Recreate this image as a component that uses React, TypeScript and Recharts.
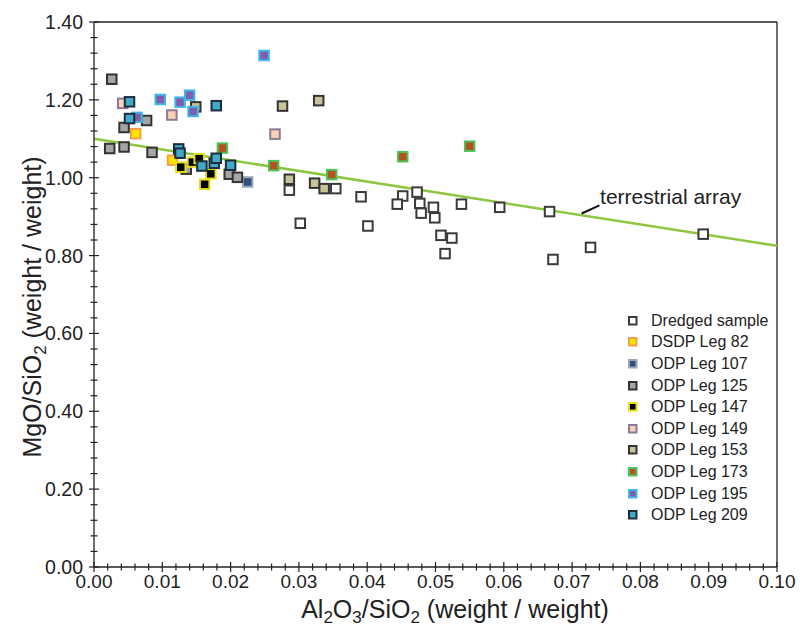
import React from 'react';
import {
  ScatterChart,
  Scatter,
  XAxis,
  YAxis,
  ReferenceLine,
  ReferenceDot,
  Legend,
} from 'recharts';

// ---------- data ----------
const dredgedSample = [
  { x: 0.0286, y: 0.968 }, { x: 0.0302, y: 0.883 }, { x: 0.0354, y: 0.972 },
  { x: 0.0391, y: 0.951 }, { x: 0.0401, y: 0.876 }, { x: 0.0452, y: 0.953 },
  { x: 0.0444, y: 0.932 }, { x: 0.0473, y: 0.963 }, { x: 0.0477, y: 0.934 },
  { x: 0.0479, y: 0.909 }, { x: 0.0497, y: 0.924 }, { x: 0.0499, y: 0.897 },
  { x: 0.0508, y: 0.852 }, { x: 0.0524, y: 0.845 }, { x: 0.0514, y: 0.805 },
  { x: 0.0538, y: 0.932 }, { x: 0.0594, y: 0.924 }, { x: 0.0667, y: 0.913 },
  { x: 0.0672, y: 0.790 }, { x: 0.0727, y: 0.821 }, { x: 0.0892, y: 0.855 },
];
const dsdpLeg82 = [{ x: 0.0061, y: 1.113 }, { x: 0.0115, y: 1.045 }];
const odpLeg107 = [{ x: 0.0225, y: 0.989 }];
const odpLeg125 = [
  { x: 0.0026, y: 1.253 }, { x: 0.0044, y: 1.129 }, { x: 0.0077, y: 1.147 },
  { x: 0.0023, y: 1.075 }, { x: 0.0044, y: 1.079 }, { x: 0.0085, y: 1.065 },
  { x: 0.0135, y: 1.022 }, { x: 0.0198, y: 1.009 }, { x: 0.0210, y: 1.001 },
];
const odpLeg147 = [
  { x: 0.0127, y: 1.027 }, { x: 0.0144, y: 1.040 }, { x: 0.0154, y: 1.049 },
  { x: 0.0171, y: 1.010 }, { x: 0.0162, y: 0.983 },
];
const odpLeg149 = [{ x: 0.0042, y: 1.191 }, { x: 0.0114, y: 1.161 }, { x: 0.0265, y: 1.112 }];
const odpLeg153 = [
  { x: 0.0149, y: 1.182 }, { x: 0.0276, y: 1.184 }, { x: 0.0329, y: 1.198 },
  { x: 0.0286, y: 0.996 }, { x: 0.0323, y: 0.986 }, { x: 0.0337, y: 0.972 },
];
const odpLeg173 = [
  { x: 0.0188, y: 1.076 }, { x: 0.0263, y: 1.031 }, { x: 0.0348, y: 1.008 },
  { x: 0.0452, y: 1.054 }, { x: 0.0550, y: 1.081 },
];
const odpLeg195 = [
  { x: 0.0249, y: 1.314 }, { x: 0.0097, y: 1.201 }, { x: 0.0126, y: 1.194 },
  { x: 0.0140, y: 1.212 }, { x: 0.0145, y: 1.170 }, { x: 0.0063, y: 1.155 },
];
const odpLeg209 = [
  { x: 0.0052, y: 1.195 }, { x: 0.0052, y: 1.152 }, { x: 0.0179, y: 1.185 },
  { x: 0.0124, y: 1.074 }, { x: 0.0126, y: 1.063 }, { x: 0.0158, y: 1.030 },
  { x: 0.0176, y: 1.037 }, { x: 0.0179, y: 1.050 }, { x: 0.0200, y: 1.032 },
];

const terrestrialArray = [{ x: 0, y: 1.10 }, { x: 0.1, y: 0.825 }];
const leader = [{ x: 0.0714, y: 0.908 }, { x: 0.0740, y: 0.929 }];
const annotationLabel = 'terrestrial array';
const annotationAt = { x: 0.0741, y: 0.950 };

const xMajorTicks = [0, 0.01, 0.02, 0.03, 0.04, 0.05, 0.06, 0.07, 0.08, 0.09, 0.1];
const yMajorTicks = [0, 0.2, 0.4, 0.6, 0.8, 1.0, 1.2, 1.4];
const xMinorPerMajor = 5;
const yMinorPerMajor = 5;

const xTicks: number[] = [];
for (let i = 0; i < xMajorTicks.length - 1; i++) {
  for (let j = 0; j < xMinorPerMajor; j++) {
    xTicks.push(xMajorTicks[i] + ((xMajorTicks[i + 1] - xMajorTicks[i]) * j) / xMinorPerMajor);
  }
}
xTicks.push(xMajorTicks[xMajorTicks.length - 1]);
const yTicks: number[] = [];
for (let i = 0; i < yMajorTicks.length - 1; i++) {
  for (let j = 0; j < yMinorPerMajor; j++) {
    yTicks.push(yMajorTicks[i] + ((yMajorTicks[i + 1] - yMajorTicks[i]) * j) / yMinorPerMajor);
  }
}
yTicks.push(yMajorTicks[yMajorTicks.length - 1]);

const series = [
  { name: 'Dredged sample', data: dredgedSample, fill: '#ffffff', stroke: '#3a3a3a' },
  { name: 'DSDP Leg 82', data: dsdpLeg82, fill: '#ffe600', stroke: '#f5a04a' },
  { name: 'ODP Leg 107', data: odpLeg107, fill: '#2f5080', stroke: '#9aa6b8' },
  { name: 'ODP Leg 125', data: odpLeg125, fill: '#a5a5a5', stroke: '#333333' },
  { name: 'ODP Leg 147', data: odpLeg147, fill: '#000000', stroke: '#e4de1c' },
  { name: 'ODP Leg 149', data: odpLeg149, fill: '#fcd2b4', stroke: '#8a7a98' },
  { name: 'ODP Leg 153', data: odpLeg153, fill: '#c9c39a', stroke: '#333333' },
  { name: 'ODP Leg 173', data: odpLeg173, fill: '#b4531f', stroke: '#4cc35a' },
  { name: 'ODP Leg 195', data: odpLeg195, fill: '#7f5fa8', stroke: '#3fb6ee' },
  { name: 'ODP Leg 209', data: odpLeg209, fill: '#41a9c9', stroke: '#1e2d3a' },
];

const FONT = '"Liberation Sans", Arial, Helvetica, sans-serif';
const AXIS = '#222222';

const isMajor = (v: number, majors: number[]) => majors.some((m) => Math.abs(m - v) < 1e-9);

const XTick = (props: any) => {
  const { x, y, payload } = props;
  const major = isMajor(payload.value, xMajorTicks);
  const h = major ? 5 : 3.5;
  return (
    <g>
      <line x1={x} x2={x} y1={y - h} y2={y + h} stroke={AXIS} strokeWidth={1.2} />
      {major && (
        <text x={x} y={y + 21} textAnchor="middle" fontSize={19} fill={AXIS} fontFamily={FONT}>
          {payload.value.toFixed(2)}
        </text>
      )}
    </g>
  );
};

const YTick = (props: any) => {
  const { x, y, payload } = props;
  const major = isMajor(payload.value, yMajorTicks);
  const h = major ? 5 : 3.5;
  return (
    <g>
      <line x1={x - h} x2={x + h} y1={y} y2={y} stroke={AXIS} strokeWidth={1.2} />
      {major && (
        <text x={x - 11} y={y + 7} textAnchor="end" fontSize={19.5} fill={AXIS} fontFamily={FONT}>
          {payload.value.toFixed(2)}
        </text>
      )}
    </g>
  );
};

const makeShape = (fill: string, stroke: string) => (p: any) => {
  const { cx, cy } = p;
  if (cx == null || cy == null) return <g />;
  const s = 9.5;
  return (
    <rect x={cx - s / 2} y={cy - s / 2} width={s} height={s} fill={fill} stroke={stroke} strokeWidth={2} />
  );
};

const renderLegend = () => (
  <div style={{ fontFamily: FONT, fontSize: 16, color: '#222' }}>
    {series.map((s) => (
      <div key={s.name} style={{ height: 21.6, display: 'flex', alignItems: 'center' }}>
        <svg width={24} height={12} style={{ display: 'block' }}>
          <rect x={6} y={2} width={7.5} height={7.5} fill={s.fill} stroke={s.stroke} strokeWidth={2} />
        </svg>
        <span style={{ marginLeft: 4, whiteSpace: 'nowrap' }}>{s.name}</span>
      </div>
    ))}
  </div>
);

const AnnotationLabel = (p: any) => {
  const vb = p.viewBox || {};
  return (
    <text x={vb.x} y={vb.y + 7} fontSize={21} fill={AXIS} fontFamily={FONT}>
      {annotationLabel}
    </text>
  );
};

export default function App() {
  return (
    <div style={{ position: 'absolute', left: 0, top: 0, width: 805, height: 637, background: '#fff', fontFamily: FONT }}>
      <ScatterChart width={805} height={637} margin={{ top: 22, right: 28, bottom: 0, left: 0 }}>
        <XAxis
          type="number"
          dataKey="x"
          domain={[0, 0.1]}
          ticks={xTicks}
          interval={0}
          height={70}
          tickSize={0}
          tickMargin={0}
          tickLine={false}
          axisLine={{ stroke: AXIS, strokeWidth: 1.3 }}
          tick={<XTick />}
          allowDataOverflow
        />
        <YAxis
          type="number"
          dataKey="y"
          domain={[0, 1.4]}
          ticks={yTicks}
          interval={0}
          width={94}
          tickSize={0}
          tickMargin={0}
          tickLine={false}
          axisLine={{ stroke: AXIS, strokeWidth: 1.3 }}
          tick={<YTick />}
          allowDataOverflow
        />
        <ReferenceLine y={1.4} stroke={AXIS} strokeWidth={1.3} />
        <ReferenceLine x={0.1} stroke={AXIS} strokeWidth={1.3} />
        <ReferenceLine segment={terrestrialArray} stroke="#8dc63f" strokeWidth={2.5} />
        <ReferenceLine segment={leader} stroke="#111" strokeWidth={2} />
        <ReferenceDot x={annotationAt.x} y={annotationAt.y} r={0} fill="none" stroke="none" label={<AnnotationLabel />} />
        {series.map((s) => (
          <Scatter
            key={s.name}
            name={s.name}
            data={s.data}
            fill={s.fill}
            shape={makeShape(s.fill, s.stroke)}
            isAnimationActive={false}
          />
        ))}
        <Legend
          layout="vertical"
          align="center"
          verticalAlign="middle"
          content={renderLegend}
          wrapperStyle={{ position: 'absolute', left: 623, top: 310, width: 160, height: 220 }}
        />
        <text x={41} y={307} transform="rotate(-90 41 307)" textAnchor="middle" fontSize={25} fill={AXIS} fontFamily={FONT}>
          MgO/SiO<tspan fontSize={17} dy={5}>2</tspan>
          <tspan dy={-5}> (weight / weight)</tspan>
        </text>
        <text x={455} y={618} textAnchor="middle" fontSize={25} fill={AXIS} fontFamily={FONT}>
          Al<tspan fontSize={17} dy={5}>2</tspan>
          <tspan dy={-5}>O</tspan>
          <tspan fontSize={17} dy={5}>3</tspan>
          <tspan dy={-5}>/SiO</tspan>
          <tspan fontSize={17} dy={5}>2</tspan>
          <tspan dy={-5}> (weight / weight)</tspan>
        </text>
      </ScatterChart>
    </div>
  );
}
